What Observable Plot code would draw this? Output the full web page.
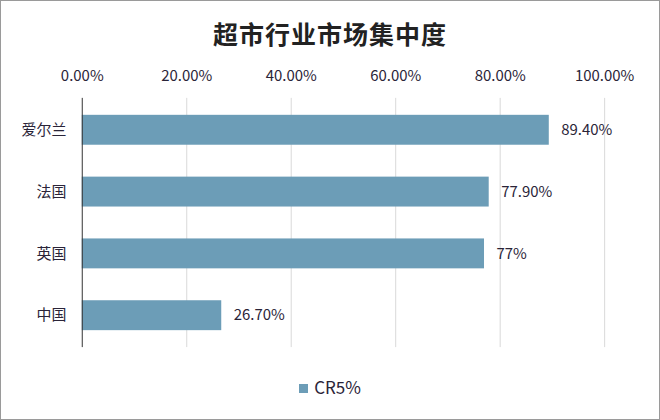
<!DOCTYPE html>
<html>
<head>
<meta charset="utf-8">
<script src="https://cdn.jsdelivr.net/npm/d3@7"></script>
<script src="https://cdn.jsdelivr.net/npm/@observablehq/plot@0.6"></script>
<style>
  html, body { margin: 0; padding: 0; background: #fff; }
  #frame { position: relative; width: 658px; height: 418px; border: 1px solid #9a9a9a; overflow: hidden;
    font-family: "Noto Sans CJK SC", "Noto Sans", sans-serif; background: #fff; }
  #title { position: absolute; left: 0; top: 14px; width: 100%; text-align: center; font-size: 25px; font-weight: bold; color: #222; letter-spacing: 1px; }
  #chart { position: absolute; left: 0; top: 55px; }
  #legend { position: absolute; left: 0; top: 373px; width: 100%; text-align: center; font-size: 17px; color: #2a2438; }
  #legend .sw { display: inline-block; width: 9px; height: 9px; background: #6c9db7; margin-right: 6px; vertical-align: middle; position: relative; top: -1px; }
</style>
</head>
<body>
<div id="frame">
  <div id="title">超市行业市场集中度</div>
  <div id="chart"></div>
  <div id="legend"><span class="sw"></span>CR5%</div>
</div>
<script>
const categories = ["爱尔兰", "法国", "英国", "中国"];
const values = [89.4, 77.9, 77, 26.7];
const valueLabels = ["89.40%", "77.90%", "77%", "26.70%"];
const xTicks = [0, 20, 40, 60, 80, 100];
const seriesName = "CR5%";

const data = categories.map((c, i) => ({country: c, value: values[i], label: valueLabels[i]}));
const barColor = "#6c9db7";
const textColor = "#2a2438";

const chart = Plot.plot({
  width: 660,
  height: 300,
  marginTop: 42,
  marginBottom: 8,
  marginLeft: 81,
  marginRight: 55,
  style: {fontFamily: '"Noto Sans CJK SC", "Noto Sans", sans-serif', fontSize: "15px", color: textColor, background: "transparent"},
  x: {domain: [0, 100], ticks: xTicks, axis: null},
  y: {domain: categories, paddingInner: 0.52, paddingOuter: 0.25, axis: null},
  marks: [
    Plot.gridX(xTicks.filter(d => d > 0), {stroke: "#d9d9d9", strokeOpacity: 1, strokeWidth: 1}),
    Plot.axisX(xTicks, {anchor: "top", label: null, tickSize: 0, tickPadding: 17, tickFormat: d => d.toFixed(2) + "%", fontSize: 15, fill: textColor}),
    Plot.axisY(categories, {anchor: "left", label: null, tickSize: 0, tickPadding: 16, fontSize: 15, fill: textColor}),
    Plot.barX(data, {x: "value", y: "country", fill: barColor}),
    Plot.ruleX([0], {stroke: "#333", strokeWidth: 1}),
    Plot.text(data, {x: "value", y: "country", text: "label", textAnchor: "start", dx: 12, fontSize: 15, fill: textColor})
  ]
});
document.getElementById("chart").appendChild(chart);
</script>
</body>
</html>
